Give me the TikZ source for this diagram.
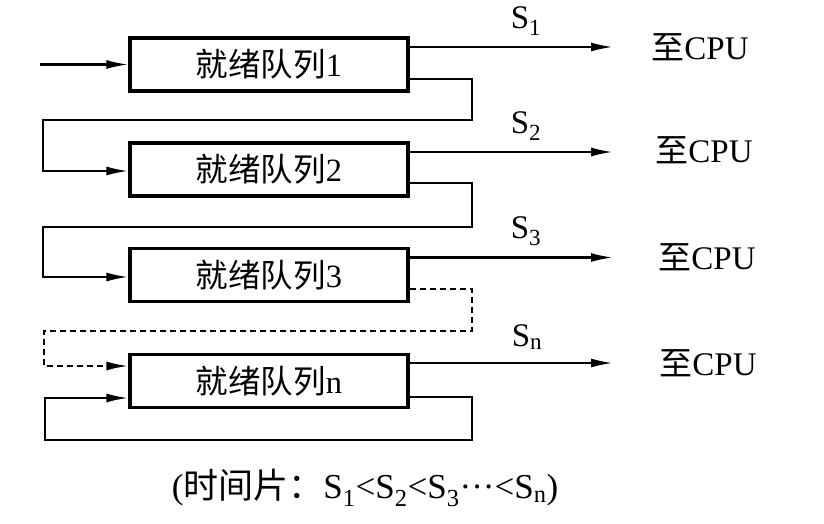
\documentclass[tikz,border=0pt]{standalone}
\usepackage{fontspec}
\setmainfont{Liberation Serif}
\newfontfamily\cjk{Noto Sans CJK SC}
\usetikzlibrary{arrows.meta}

\begin{document}
\begin{tikzpicture}[x=1pt,y=-1pt,
  queue/.style={draw, line width=3.2pt, minimum width=278pt, minimum height=53pt,
                inner sep=0pt, font=\fontsize{32.5}{32.5}\selectfont},
  link/.style={line width=2.2pt},
  feed/.style={link, -{Latex[length=22pt,width=9pt]}},
  dashlink/.style={feed, dash pattern=on 6pt off 4pt},
  lbl/.style={inner sep=0pt, font=\fontsize{33}{33}\selectfont},
  capt/.style={inner sep=0pt, font=\fontsize{35}{35}\selectfont}
]
\useasboundingbox (0,0) rectangle (824,524);

% ready queues
\node[queue] (q1) at (269,64.5) {{\cjk 就绪队列}1};
\node[queue] (q2) at (269,169.5) {{\cjk 就绪队列}2};
\node[queue] (q3) at (269,275) {{\cjk 就绪队列}3};
\node[queue] (qn) at (269,381) {{\cjk 就绪队列}n};

% entry into the first queue
\coordinate (in) at (40,64.5);
\draw[feed] (in) -- (q1.west);

% dispatch to the CPU with time slices
\coordinate (o1) at (613,47);
\coordinate (o2) at (613,152);
\coordinate (o3) at (613,257.5);
\coordinate (on) at (613,363);
\draw[feed] ([yshift=17.5pt]q1.east) -- (o1);
\draw[feed] ([yshift=17.5pt]q2.east) -- (o2);
\draw[feed] ([yshift=17.5pt]q3.east) -- (o3);
\draw[feed] ([yshift=18pt]qn.east) -- (on);

\node[lbl] (s1) at (526,21) {S\textsubscript{1}};
\node[lbl] (s2) at (526,126) {S\textsubscript{2}};
\node[lbl] (s3) at (526,231) {S\textsubscript{3}};
\node[lbl] (sn) at (527,337) {S\textsubscript{n}};

\node[lbl] (c1) at (700,47) {{\cjk 至}CPU};
\node[lbl] (c2) at (704,150) {{\cjk 至}CPU};
\node[lbl] (c3) at (707,257) {{\cjk 至}CPU};
\node[lbl] (cn) at (708,363) {{\cjk 至}CPU};

% demotion paths between queues
\coordinate (r1) at (472,120);
\coordinate (l1) at (43,120);
\coordinate (r2) at (472,227);
\coordinate (l2) at (43,227);
\coordinate (r3) at (472,331);
\coordinate (l3) at (44,331);
\coordinate (r4) at (472,440);
\coordinate (l4) at (45,440);

\draw[feed] ([yshift=-14.5pt]q1.east) -| (r1) -- (l1) |- ([yshift=-1.5pt]q2.west);
\draw[feed] ([yshift=-13.5pt]q2.east) -| (r2) -- (l2) |- ([yshift=-2pt]q3.west);
\draw[dashlink] ([yshift=-14pt]q3.east) -| (r3) -- (l3) |- ([yshift=15pt]qn.west);
\draw[feed] ([yshift=-16pt]qn.east) -| (r4) -- (l4) |- ([yshift=-17pt]qn.west);

% caption
\node[capt] (cap) at (365,488)
  {({\cjk 时间片：}S\textsubscript{1}<S\textsubscript{2}<S\textsubscript{3}···<S\textsubscript{n})};
\end{tikzpicture}
\end{document}
